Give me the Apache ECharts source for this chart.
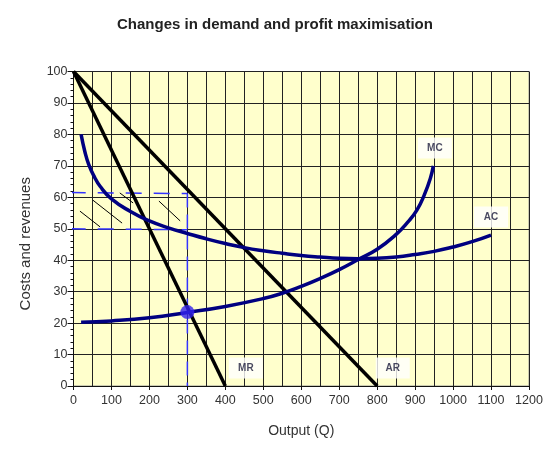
<!DOCTYPE html>
<html>
<head>
<meta charset="utf-8">
<script src="https://cdn.jsdelivr.net/npm/echarts@6/dist/echarts.min.js"></script>
<style>html,body{margin:0;padding:0;background:#fff}#c{width:555px;height:450px}</style>
</head>
<body>
<div id="c"></div>
<script>
// Demand lines
const arX = [0, 800];
const arY = [100, 0];
const mrX = [0, 400];
const mrY = [100, 0];
// Average cost
const acX = [20, 30, 40, 55, 70, 100, 150, 200, 250, 300, 350, 400, 450, 500, 550, 600, 650, 700, 750, 800, 850, 900, 950, 1000, 1050, 1100];
const acY = [80, 74.5, 70.5, 66.5, 63.5, 59.5, 55.5, 52.5, 50.3, 48.5, 46.8, 45.3, 44, 43, 42.2, 41.5, 41, 40.6, 40.5, 40.6, 41, 41.8, 42.8, 44.2, 45.9, 48];
// Marginal cost
const mcX = [20, 100, 200, 300, 400, 500, 550, 600, 650, 700, 750, 800, 850, 880, 905, 925, 940, 948];
const mcY = [20.3, 20.7, 21.7, 23.4, 25.3, 27.8, 29.5, 31.7, 34.2, 37, 40.2, 43.5, 48.2, 52, 56, 61, 66, 70];
// Profit-maximising point
const eqPoint = [300, 23.5];
// Dashed guide lines
const priceGuideX = [-10, 300];
const priceGuideY = [61.5, 61.2];
const costGuideX = [-10, 300];
const costGuideY = [50, 49.7];
const qtyGuideX = [300, 300];
const qtyGuideY = [61.2, 0];
// Hatch marks in profit area
const hatch1 = [[17, 55.6], [70, 50.6]];
const hatch2 = [[51, 59.1], [128, 51.8]];
const hatch3 = [[122, 61.4], [157, 58.2]];
const hatch4 = [[225, 58.8], [281, 52.5]];
// Curve labels
const curveLabels = ['MC', 'AC', 'MR', 'AR'];
const curveLabelX = [952, 1100, 454, 841];
const curveLabelY = [75.7, 53.7, 5.7, 5.7];
// Axis ticks
const xMin = 0, xMax = 1200, xStep = 100;
const yMin = 0, yMax = 100, yStep = 10;

const zip = (xs, ys) => xs.map((x, i) => [x, ys[i]]);
const FONT = 'Liberation Sans, Arial, sans-serif';

const chart = echarts.init(document.getElementById('c'));
const lineBase = { type: 'line', showSymbol: false, symbol: 'none', silent: true, clip: false };
chart.setOption({
  animation: false,
  title: {
    text: 'Changes in demand and profit maximisation',
    left: 112,
    top: 12,
    textStyle: { fontFamily: FONT, fontSize: 15, fontWeight: 'bold', color: '#222' }
  },
  grid: {
    left: 73.5, right: 26, top: 71.5, bottom: 64,
    show: true, backgroundColor: '#ffffcc', borderColor: '#999', borderWidth: 1
  },
  xAxis: {
    type: 'value', min: xMin, max: xMax, interval: xStep,
    name: 'Output (Q)', nameLocation: 'middle', nameGap: 38,
    nameTextStyle: { fontFamily: FONT, fontSize: 14, color: '#333' },
    axisLine: { show: true, onZero: false, lineStyle: { color: '#111', width: 1 } },
    axisTick: { show: true, length: 4, lineStyle: { color: '#111' } },
    axisLabel: { fontFamily: FONT, fontSize: 12.5, color: '#333', margin: 8, formatter: v => String(v) },
    splitLine: { show: true, lineStyle: { color: '#222', width: 1 } },
    minorTick: { show: false, splitNumber: 2 },
    minorSplitLine: { show: true, lineStyle: { color: '#222', width: 1 } }
  },
  yAxis: {
    type: 'value', min: yMin, max: yMax, interval: yStep,
    name: 'Costs and revenues', nameLocation: 'middle', nameGap: 40,
    nameTextStyle: { fontFamily: FONT, fontSize: 15, color: '#333', padding: [0, 30, 0, 0] },
    axisLine: { show: true, onZero: false, lineStyle: { color: '#111', width: 1 } },
    axisTick: { show: true, length: 6, lineStyle: { color: '#111' } },
    minorTick: { show: true, splitNumber: 5, length: 3, lineStyle: { color: '#111' } },
    axisLabel: { fontFamily: FONT, fontSize: 12.5, color: '#333', margin: 6 },
    splitLine: { show: true, lineStyle: { color: '#222', width: 1 } }
  },
  series: [
    Object.assign({}, lineBase, { name: 'guide-price', data: zip(priceGuideX, priceGuideY), lineStyle: { color: '#3333ff', width: 1.5, type: [16, 12] }, z: 3 }),
    Object.assign({}, lineBase, { name: 'guide-cost', data: zip(costGuideX, costGuideY), lineStyle: { color: '#3333ff', width: 1.5, type: [16, 12] }, z: 3 }),
    Object.assign({}, lineBase, { name: 'guide-qty', data: zip(qtyGuideX, qtyGuideY), lineStyle: { color: '#3333ff', width: 1.5, type: [14, 7] }, z: 3 }),
    Object.assign({}, lineBase, { name: 'h1', data: hatch1, lineStyle: { color: '#000', width: 1 }, z: 3 }),
    Object.assign({}, lineBase, { name: 'h2', data: hatch2, lineStyle: { color: '#000', width: 1 }, z: 3 }),
    Object.assign({}, lineBase, { name: 'h3', data: hatch3, lineStyle: { color: '#000', width: 1 }, z: 3 }),
    Object.assign({}, lineBase, { name: 'h4', data: hatch4, lineStyle: { color: '#000', width: 1 }, z: 3 }),
    Object.assign({}, lineBase, { name: 'AR', data: zip(arX, arY), lineStyle: { color: '#000', width: 3.5 }, z: 4 }),
    Object.assign({}, lineBase, { name: 'MR', data: zip(mrX, mrY), lineStyle: { color: '#000', width: 3.5 }, z: 4 }),
    Object.assign({}, lineBase, { name: 'AC', data: zip(acX, acY), smooth: 0.5, lineStyle: { color: '#000080', width: 3.5 }, z: 5 }),
    Object.assign({}, lineBase, { name: 'MC', data: zip(mcX, mcY), smooth: 0.5, lineStyle: { color: '#000080', width: 3.5 }, z: 5 }),
    {
      type: 'scatter', name: 'eq', data: [eqPoint], symbolSize: 14, z: 6, silent: true,
      itemStyle: { color: '#3322ee' }
    },
    {
      type: 'scatter', name: 'labels', silent: true, z: 7, symbolSize: 0,
      data: curveLabels.map((t, i) => ({ value: [curveLabelX[i], curveLabelY[i]], name: t })),
      label: {
        show: true, position: 'inside', formatter: p => p.name,
        fontFamily: FONT, fontSize: 10, fontWeight: 'bold', color: '#1a1a3a',
        backgroundColor: '#ffffff', width: 34, height: 21, lineHeight: 21,
        align: 'center', verticalAlign: 'middle', padding: 0
      }
    }
  ]
});
</script>
</body>
</html>
